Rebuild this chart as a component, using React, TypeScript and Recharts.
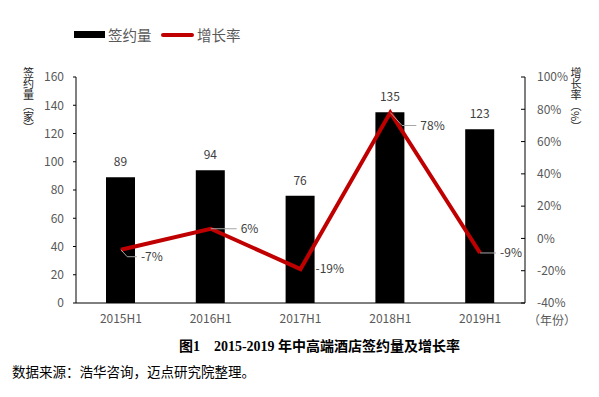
import React from 'react';
import { ComposedChart, Bar, Line, XAxis, YAxis, LabelList } from 'recharts';

const categories = ['2015H1', '2016H1', '2017H1', '2018H1', '2019H1'];
const signCount = [89, 94, 76, 135, 123];
const growthRate = [-7, 6, -19, 78, -9];
const leftTicks = [0, 20, 40, 60, 80, 100, 120, 140, 160];
const rightTicks = [-40, -20, 0, 20, 40, 60, 80, 100];
const boundaryTicks = [1, 2, 3, 4];

const data = categories.map((c, i) => ({
  name: c,
  count: signCount[i],
  rate: growthRate[i],
  pos: i + 0.5,
}));

const FONT = '"Noto Sans CJK SC", "Noto Sans", sans-serif';
const GREY = '#595959';
const RED = '#C00000';

// 增长率标签的偏移（dx, dy）及是否画引线
const RATE_LABEL_OFFSET = [
  { dx: 20, dy: 7, leader: true },
  { dx: 30, dy: 0, leader: true },
  { dx: 15, dy: 0, leader: false },
  { dx: 30, dy: 13, leader: true },
  { dx: 20, dy: 0, leader: true },
];

function RateLabel(props: any) {
  const { x, y, index, value } = props;
  const o = RATE_LABEL_OFFSET[index];
  const tx = x + o.dx;
  const ty = y + o.dy;
  return (
    <g>
      {o.leader && (
        <polyline
          points={`${x},${y} ${o.dy ? x + o.dy * 0.9 : x},${ty} ${tx - 4},${ty}`}
          fill="none"
          stroke="#A6A6A6"
          strokeWidth={1}
        />
      )}
      <text x={tx} y={ty} dy="0.35em" fill="#404040" fontSize={12} fontFamily={FONT}>
        {value}%
      </text>
    </g>
  );
}

export default function App() {
  return (
    <div style={{ position: 'absolute', left: 0, top: 0, width: 599, height: 397, background: '#fff', fontFamily: FONT }}>
      <ComposedChart
        width={599}
        height={397}
        data={data}
        margin={{ top: 77, right: 0, bottom: 64, left: 0 }}
      >
        <XAxis
          xAxisId="grid"
          type="number"
          dataKey="pos"
          domain={[0, 5]}
          ticks={boundaryTicks}
          tick={false}
          tickSize={-5}
          axisLine={false}
          tickLine={{ stroke: '#000' }}
          height={0}
        />
        <XAxis
          xAxisId="cat"
          dataKey="name"
          height={30}
          tickSize={0}
          tickMargin={11}
          tickLine={false}
          axisLine={{ stroke: '#000' }}
          tick={{ fill: GREY, fontSize: 12, fontFamily: FONT }}
        />
        <YAxis
          yAxisId="left"
          orientation="left"
          width={76}
          domain={[0, 160]}
          ticks={leftTicks}
          tickSize={3}
          tickMargin={9}
          axisLine={{ stroke: '#000' }}
          tickLine={{ stroke: '#000' }}
          tick={{ fill: GREY, fontSize: 12, fontFamily: FONT }}
        />
        <YAxis
          yAxisId="right"
          orientation="right"
          width={74}
          domain={[-40, 100]}
          ticks={rightTicks}
          tickFormatter={(v: number) => `${v}%`}
          tickSize={-4}
          tickMargin={16}
          axisLine={{ stroke: '#000' }}
          tickLine={{ stroke: '#000' }}
          tick={{ fill: GREY, fontSize: 12, fontFamily: FONT }}
        />
        <Bar xAxisId="cat" yAxisId="left" dataKey="count" fill="#000" barSize={29} isAnimationActive={false}>
          <LabelList dataKey="count" position="top" offset={11} fill="#404040" fontSize={12} fontFamily={FONT} />
        </Bar>
        <Line
          xAxisId="cat"
          yAxisId="right"
          dataKey="rate"
          type="linear"
          stroke={RED}
          strokeWidth={4}
          dot={false}
          activeDot={false}
          isAnimationActive={false}
        >
          <LabelList dataKey="rate" content={RateLabel} />
        </Line>
      </ComposedChart>

      {/* 竖排轴标题 */}
      <svg width={599} height={397} style={{ position: 'absolute', left: 0, top: 0, pointerEvents: 'none' }}>
        <text x={28.5} y={67} fontSize={11} fill="#262626" fontFamily={FONT} style={{ writingMode: 'vertical-rl' }}>
          签约量（家）
        </text>
        <text x={576} y={67} fontSize={11} fill="#262626" fontFamily={FONT} style={{ writingMode: 'vertical-rl' }}>
          增长率（%）
        </text>
      </svg>

      {/* 图例 */}
      <div style={{ position: 'absolute', left: 74, top: 31, width: 31, height: 7, background: '#000' }} />
      <div style={{ position: 'absolute', left: 108, top: 25, fontSize: 14.5, lineHeight: '20px', color: GREY }}>签约量</div>
      <div style={{ position: 'absolute', left: 161, top: 33, width: 33, height: 4, background: RED, borderRadius: 2 }} />
      <div style={{ position: 'absolute', left: 197, top: 25, fontSize: 14.5, lineHeight: '20px', color: GREY }}>增长率</div>

      <div style={{ position: 'absolute', left: 528, top: 311, fontSize: 12, lineHeight: '18px', color: GREY }}>（年份）</div>

      {/* 图题与来源 */}
      <div style={{ position: 'absolute', left: 0, width: 599, top: 337, textAlign: 'center', paddingLeft: 40, boxSizing: 'border-box', fontSize: 14, lineHeight: '20px', fontWeight: 'bold', color: '#000', fontFamily: '"Liberation Serif", "Noto Sans CJK SC", serif' }}>
        图1　2015-2019 年中高端酒店签约量及增长率
      </div>
      <div style={{ position: 'absolute', left: 12, top: 361, fontSize: 13.5, lineHeight: '20px', color: '#000' }}>数据来源：浩华咨询，迈点研究院整理。</div>
    </div>
  );
}
